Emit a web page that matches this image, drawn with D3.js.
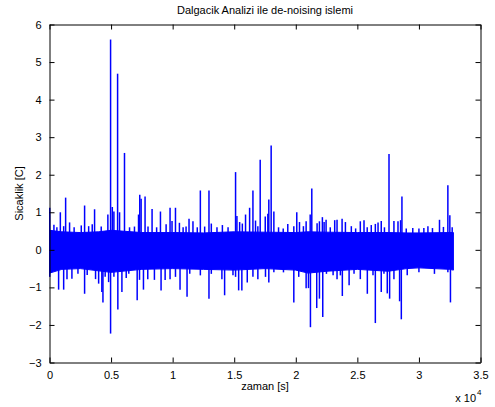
<!DOCTYPE html>
<html><head><meta charset="utf-8">
<script src="https://cdn.jsdelivr.net/npm/d3@7"></script>
<style>
html,body{margin:0;padding:0;background:#fff;}
svg text{font-family:"Liberation Sans",Arial,Helvetica,sans-serif;font-size:11px;fill:#000;}
</style></head>
<body>
<svg id="chart" width="495" height="407"></svg>
<script>
// x positions are in units of 1e4 samples (axis shows "x 10^4")
const title = "Dalgacik Analizi ile de-noising islemi";
const xLabel = "zaman [s]";
const yLabel = "Sicaklik [C]";
const xTicks = [0, 0.5, 1, 1.5, 2, 2.5, 3, 3.5];
const yTicks = [-3, -2, -1, 0, 1, 2, 3, 4, 5, 6];

// dense noise band envelope (approximate upper / lower edges)
const bandX  = [0, 0.1, 0.25, 0.4, 0.5, 0.75, 1.0, 1.25, 1.5, 1.75, 2.0, 2.1, 2.25, 2.5, 2.75, 2.9, 3.0, 3.25, 3.28];
const bandHi = [0.52, 0.48, 0.46, 0.48, 0.52, 0.46, 0.46, 0.45, 0.48, 0.47, 0.46, 0.48, 0.47, 0.46, 0.46, 0.45, 0.45, 0.46, 0.46];
const bandLo = [-0.62, -0.52, -0.5, -0.56, -0.6, -0.52, -0.5, -0.52, -0.54, -0.5, -0.54, -0.62, -0.57, -0.52, -0.57, -0.5, -0.48, -0.52, -0.54];

// positive excursions: [position (x1e4), value]
const posSpikes = [
 [0.002,1.12],[0.036,0.67],[0.06,0.6],[0.088,1.0],[0.115,0.63],[0.131,1.39],[0.163,0.73],[0.2,0.6],[0.258,0.65],
 [0.285,1.18],[0.318,0.63],[0.347,0.68],[0.366,1.08],[0.42,0.62],[0.474,0.94],[0.496,5.6],[0.51,1.14],
 [0.523,1.02],[0.553,4.69],[0.569,1.0],[0.609,2.58],[0.65,0.6],[0.69,0.62],[0.723,0.94],[0.733,1.47],
 [0.744,1.36],[0.776,1.42],[0.8,0.62],[0.833,1.09],[0.87,0.6],[0.901,1.02],[0.947,0.68],[0.979,1.12],
 [0.995,0.77],[1.023,1.12],[1.055,0.72],[1.085,0.6],[1.109,0.62],[1.133,0.83],[1.165,0.76],[1.2,0.6],
 [1.225,1.58],[1.26,0.62],[1.295,1.58],[1.314,0.7],[1.36,0.6],[1.404,0.66],[1.45,0.6],[1.511,2.07],
 [1.522,0.9],[1.544,0.74],[1.566,0.7],[1.592,0.94],[1.625,1.12],[1.652,1.58],[1.673,0.78],[1.692,0.63],
 [1.711,2.4],[1.752,0.89],[1.773,0.96],[1.781,1.34],[1.8,2.78],[1.822,1.02],[1.86,0.6],[1.898,0.57],
 [1.935,0.69],[1.984,0.63],[2.008,1.0],[2.03,0.74],[2.062,0.63],[2.084,0.76],[2.117,0.94],[2.13,1.63],
 [2.173,0.71],[2.192,0.76],[2.216,0.87],[2.23,0.74],[2.246,0.8],[2.28,0.6],[2.316,0.79],[2.335,0.8],
 [2.376,0.83],[2.403,0.74],[2.451,0.63],[2.486,0.57],[2.524,0.76],[2.554,0.79],[2.58,0.6],[2.613,0.66],
 [2.646,0.69],[2.668,0.73],[2.694,0.77],[2.72,0.6],[2.757,2.55],[2.797,0.77],[2.83,0.76],[2.851,0.79],
 [2.862,1.42],[2.897,0.57],[2.95,0.58],[3.0,0.57],[3.04,0.58],[3.073,0.63],[3.11,0.58],[3.167,0.8],
 [3.199,0.61],[3.235,1.72],[3.251,0.92],[3.27,0.6]
];

// negative excursions: [position (x1e4), value]
const negSpikes = [
 [0.002,-0.72],[0.074,-1.06],[0.115,-1.06],[0.142,-0.78],[0.182,-0.77],[0.231,-0.64],[0.285,-1.17],
 [0.306,-0.67],[0.374,-0.78],[0.399,-0.9],[0.425,-1.12],[0.434,-1.4],[0.452,-0.72],[0.48,-0.86],
 [0.496,-2.23],[0.523,-0.72],[0.555,-1.59],[0.588,-1.12],[0.623,-0.75],[0.644,-0.64],[0.712,-1.34],
 [0.731,-0.8],[0.763,-1.06],[0.798,-0.78],[0.852,-0.8],[0.906,-1.08],[0.939,-0.8],[0.979,-0.78],
 [1.023,-0.72],[1.06,-1.06],[1.117,-1.25],[1.139,-0.64],[1.225,-0.68],[1.295,-1.3],[1.314,-0.64],
 [1.4,-0.78],[1.422,-1.21],[1.49,-0.68],[1.511,-0.72],[1.536,-1.08],[1.562,-1.08],[1.606,-0.87],
 [1.652,-0.72],[1.692,-0.78],[1.754,-0.72],[1.781,-0.87],[1.822,-0.6],[1.9,-0.6],[1.984,-1.4],
 [2.024,-0.72],[2.084,-1.02],[2.103,-1.02],[2.119,-2.06],[2.138,-0.57],[2.17,-1.55],[2.192,-1.3],
 [2.219,-1.79],[2.249,-0.64],[2.303,-0.68],[2.335,-0.78],[2.362,-0.68],[2.378,-1.23],[2.433,-0.94],
 [2.473,-0.64],[2.524,-0.78],[2.581,-1.17],[2.627,-0.68],[2.646,-1.95],[2.694,-1.12],[2.716,-0.64],
 [2.743,-1.16],[2.762,-1.3],[2.797,-0.78],[2.843,-1.37],[2.857,-1.85],[2.905,-0.68],[3.0,-0.6],
 [3.126,-0.64],[3.235,-0.6],[3.256,-1.4]
];

const svg = d3.select("#chart");
const L = 49.5, R = 480.5, T = 24.5, B = 362.5;
const x = d3.scaleLinear().domain([0, 3.5]).range([L, R]);
const y = d3.scaleLinear().domain([-3, 6]).range([B, T]);
const blue = "#0000ff";

const plot = svg.append("g");
// band
const band = bandX.map((d, i) => ({x: d, hi: bandHi[i], lo: bandLo[i]}));
plot.append("path").datum(band)
  .attr("d", d3.area().x(d => x(d.x)).y0(d => y(d.lo)).y1(d => y(d.hi)))
  .attr("fill", blue).attr("stroke", blue).attr("stroke-width", 1);
// spikes
plot.selectAll("line.pos").data(posSpikes).join("line")
  .attr("x1", d => x(d[0])).attr("x2", d => x(d[0]))
  .attr("y1", y(0)).attr("y2", d => y(d[1]))
  .attr("stroke", blue).attr("stroke-width", 1.5);
plot.selectAll("line.neg").data(negSpikes).join("line")
  .attr("x1", d => x(d[0])).attr("x2", d => x(d[0]))
  .attr("y1", y(0)).attr("y2", d => y(d[1]))
  .attr("stroke", blue).attr("stroke-width", 1.5);

// axes (MATLAB style, ticks inward on all sides)
const fmt = d => d3.format("~g")(d);
const gB = svg.append("g").attr("transform", `translate(0,${B})`)
  .call(d3.axisBottom(x).tickValues(xTicks).tickFormat(fmt).tickSize(-5).tickPadding(9).tickSizeOuter(0));
const gT = svg.append("g").attr("transform", `translate(0,${T})`)
  .call(d3.axisTop(x).tickValues(xTicks).tickFormat("").tickSize(-5).tickSizeOuter(0));
const gL = svg.append("g").attr("transform", `translate(${L},0)`)
  .call(d3.axisLeft(y).tickValues(yTicks).tickFormat(fmt).tickSize(-5).tickPadding(8).tickSizeOuter(0));
const gR = svg.append("g").attr("transform", `translate(${R},0)`)
  .call(d3.axisRight(y).tickValues(yTicks).tickFormat("").tickSize(-5).tickSizeOuter(0));
[gB, gT, gL, gR].forEach(g => {
  g.select(".domain").attr("stroke", "#000").attr("stroke-width", 1);
  g.selectAll(".tick line").attr("stroke", "#000").attr("stroke-width", 1);
  g.selectAll("text").attr("font-family", null).attr("font-size", null).attr("fill", "#000");
});
gB.selectAll("text").attr("dy", "0.71em");

// title and labels
svg.append("text").attr("x", (L + R) / 2).attr("y", 14).attr("text-anchor", "middle").text(title);
svg.append("text").attr("x", (L + R) / 2).attr("y", 390).attr("text-anchor", "middle").text(xLabel);
svg.append("text").attr("transform", `translate(23,${(T + B) / 2}) rotate(-90)`).attr("text-anchor", "middle").text(yLabel);
svg.append("text").attr("x", 476).attr("y", 402).attr("text-anchor", "end").text("x 10");
svg.append("text").attr("x", 477).attr("y", 395).style("font-size", "8px").text("4");
</script>
</body></html>
